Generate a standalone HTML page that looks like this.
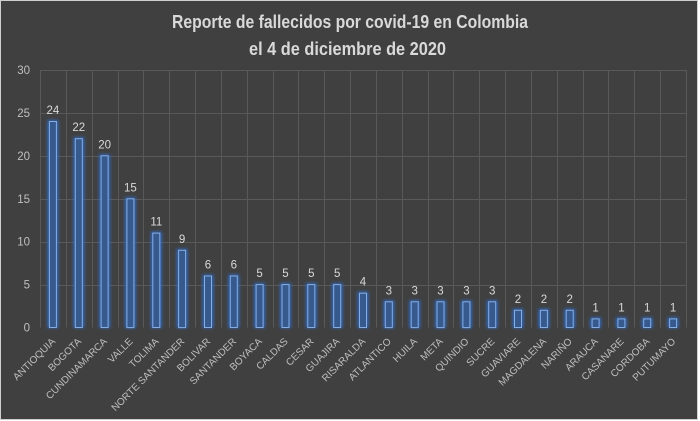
<!DOCTYPE html>
<html>
<head>
<meta charset="utf-8">
<style>
  html, body { margin:0; padding:0; background:#ffffff; }
  body { width:700px; height:421px; overflow:hidden; position:relative; }
  svg { position:absolute; left:0; top:0; }
  text { font-family: "Liberation Sans", "DejaVu Sans", sans-serif; }
</style>
</head>
<body>
<svg width="700" height="421" viewBox="0 0 700 421" xmlns="http://www.w3.org/2000/svg">
  <defs>
    <filter id="glow" x="-1" y="-1" width="3" height="3">
      <feGaussianBlur stdDeviation="1.7"/>
    </filter>
  </defs>
  <rect x="0" y="0" width="698" height="420" fill="#cfcfcf"/>
  <rect x="1" y="1" width="696" height="418" fill="#404040"/>

  <!-- Title -->
  <text x="350" y="28" text-anchor="middle" font-size="18" font-weight="bold" fill="#d9d9d9" textLength="356" lengthAdjust="spacingAndGlyphs">Reporte de fallecidos por covid-19 en Colombia</text>
  <text x="347.5" y="55" text-anchor="middle" font-size="18" font-weight="bold" fill="#d9d9d9" textLength="197" lengthAdjust="spacingAndGlyphs">el 4 de diciembre de 2020</text>

  <g id="grid" stroke="#595959" stroke-width="1"></g>
  <g id="ylabels" font-size="11.5" fill="#bfbfbf" text-anchor="end"></g>
  <g id="bars"></g>
  <g id="dlabels" font-size="11.5" fill="#d9d9d9" text-anchor="middle"></g>
  <g id="xlabels" font-size="10" fill="#bfbfbf" text-anchor="end"></g>
</svg>
<script>
(function(){
  var ns = "http://www.w3.org/2000/svg";
  var data = [["ANTIOQUIA",24],["BOGOTA",22],["CUNDINAMARCA",20],["VALLE",15],["TOLIMA",11],["NORTE SANTANDER",9],["BOLIVAR",6],["SANTANDER",6],["BOYACA",5],["CALDAS",5],["CESAR",5],["GUAJIRA",5],["RISARALDA",4],["ATLANTICO",3],["HUILA",3],["META",3],["QUINDIO",3],["SUCRE",3],["GUAVIARE",2],["MAGDALENA",2],["NARIÑO",2],["ARAUCA",1],["CASANARE",1],["CORDOBA",1],["PUTUMAYO",1]];
  var x0 = 40, x1 = 686, y0 = 327.5, yTop = 70, n = data.length;
  var step = (x1 - x0) / n;
  var unit = (y0 - yTop) / 30;
  function el(tag, attrs, parent, txt){
    var e = document.createElementNS(ns, tag);
    for (var k in attrs) e.setAttribute(k, attrs[k]);
    if (txt !== undefined) e.textContent = txt;
    parent.appendChild(e); return e;
  }
  var grid = document.getElementById("grid");
  for (var v = 0; v <= 30; v += 5) {
    var y = Math.round(y0 - v*unit) + 0.5;
    if (v > 0) el("line", {x1:x0, x2:x1, y1:y, y2:y}, grid);
    el("text", {x:30, y:(y0 - v*unit + 4).toFixed(1)}, document.getElementById("ylabels"), String(v));
  }
  for (var k = 0; k <= n; k++) {
    var x = Math.round(x0 + k*step) + 0.5;
    el("line", {x1:x, x2:x, y1:yTop, y2:y0}, grid);
  }
  var bars = document.getElementById("bars");
  var dl = document.getElementById("dlabels");
  var xl = document.getElementById("xlabels");
  data.forEach(function(d, i){
    var cx = x0 + (i + 0.5)*step;
    var top = y0 - d[1]*unit;
    var h = y0 - top;
    el("rect", {x:(cx-5.5).toFixed(1), y:(top-1.5).toFixed(1), width:11, height:(h+2).toFixed(1), fill:"#2f72d8", opacity:"0.8", filter:"url(#glow)"}, bars);
    el("rect", {x:(cx-3.5).toFixed(1), y:top.toFixed(1), width:7, height:h.toFixed(1), fill:"#36598e", stroke:"#86aee3", "stroke-width":"1"}, bars);
    el("text", {x:cx.toFixed(1), y:(top - 7.5).toFixed(1)}, dl, String(d[1]));
    var ax = cx + 3, ay = 342;
    el("text", {x:ax.toFixed(1), y:ay, transform:"rotate(-45 " + ax.toFixed(1) + " " + ay + ")"}, xl, d[0]);
  });
})();
</script>
</body>
</html>
